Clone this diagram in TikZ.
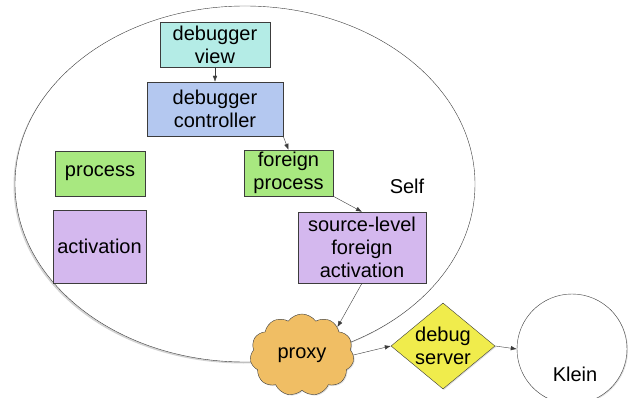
\documentclass[tikz,border=0pt]{standalone}
\usepackage{fontspec}
\setmainfont{Liberation Sans}
\usetikzlibrary{shapes.geometric,shapes.symbols,shadows,arrows.meta}

\definecolor{viewcol}{RGB}{180,236,230}
\definecolor{ctrlcol}{RGB}{180,200,240}
\definecolor{proccol}{RGB}{168,232,128}
\definecolor{actcol}{RGB}{212,184,238}
\definecolor{proxycol}{RGB}{240,190,100}
\definecolor{servercol}{RGB}{240,236,76}
\definecolor{edgecol}{RGB}{60,60,60}

\tikzset{
  box/.style={draw=edgecol, rectangle, inner sep=0pt, align=center,
    font=\fontsize{20}{23}\selectfont,
    drop shadow={opacity=0.25, shadow xshift=1pt, shadow yshift=-1pt}},
  link/.style={draw=edgecol, thin, -{Latex[length=6pt,width=4.5pt]}}
}

\begin{document}
\begin{tikzpicture}[x=1pt, y=-1pt]
  \useasboundingbox (0,0) rectangle (629,398);
  \node[ellipse, draw=edgecol, fill=white, minimum width=460, minimum height=356,
    drop shadow={opacity=0.35, shadow xshift=-1.5pt, shadow yshift=-1.5pt}] (self) at (245,184) {};
  \node[font=\fontsize{20}{23}\selectfont] (selflabel) at (407,186) {Self};

  \node[box, fill=viewcol, minimum width=110, minimum height=45] (view) at (215,45) {debugger\\view};
  \node[box, fill=ctrlcol, minimum width=136, minimum height=54] (ctrl) at (215,109) {debugger\\controller};
  \node[box, fill=proccol, minimum width=89, minimum height=46] (fproc) at (288.5,173) {foreign\\process};
  \node[box, fill=proccol, minimum width=90, minimum height=45] (proc) at (100,173.5) {process};
  \node[box, fill=actcol, minimum width=93, minimum height=73] (act) at (99.5,246.5) {activation};
  \node[box, fill=actcol, minimum width=128, minimum height=71] (fact) at (362,247.5) {source-level\\foreign\\activation};

  \node[cloud, cloud puffs=11, cloud puff arc=110, aspect=1.3, draw=edgecol, fill=proxycol,
    minimum width=104, minimum height=82, font=\fontsize{20}{23}\selectfont,
    drop shadow={opacity=0.25, shadow xshift=1pt, shadow yshift=-1pt}] (proxy) at (302,355) {proxy};
  \node[diamond, draw=edgecol, fill=servercol, minimum width=104, minimum height=86, inner sep=0pt,
    aspect=1.2, align=center, font=\fontsize{20}{23}\selectfont,
    drop shadow={opacity=0.25, shadow xshift=1pt, shadow yshift=-1pt}] (server) at (443,346) {debug\\server};
  \node[circle, draw=edgecol, fill=white, minimum size=110,
    drop shadow={opacity=0.25, shadow xshift=1pt, shadow yshift=-1pt}] (klein) at (572,349) {};
  \node[font=\fontsize{20}{23}\selectfont] (kleinlabel) at (575,374) {Klein};

  \draw[link] (view) -- (ctrl);
  \draw[link] (ctrl.south east) -- (fproc.north);
  \draw[link] (fproc.south east) -- (fact.north);
  \draw[link] (fact.south) -- (proxy.north east);
  \draw[link] (proxy.east) -- (server.west);
  \draw[link] (server.east) -- (klein.west);
\end{tikzpicture}
\end{document}
